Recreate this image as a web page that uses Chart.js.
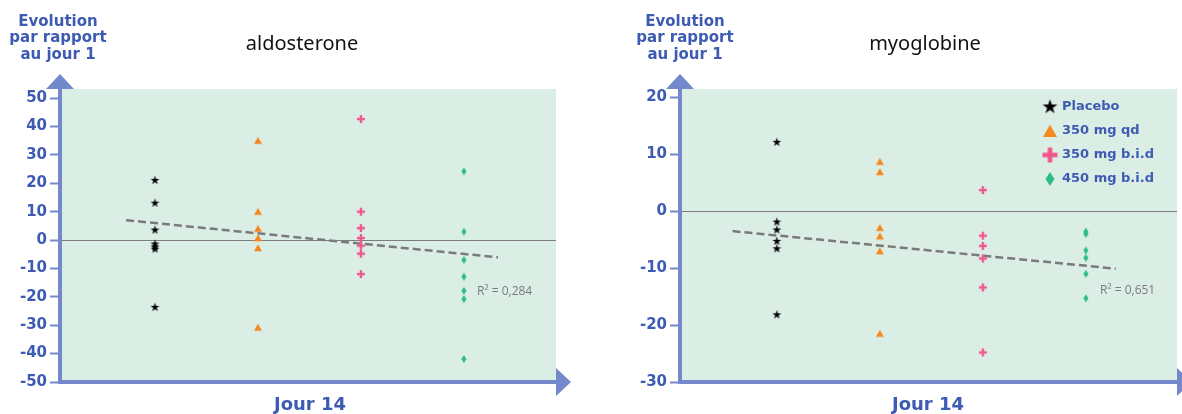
<!DOCTYPE html>
<html>
<head>
<meta charset="utf-8">
<script src="https://cdn.jsdelivr.net/npm/chart.js@4.4.0/dist/chart.umd.min.js"></script>
<style>
  body { margin: 0; background: #fff; }
  .wrap { position: absolute; top: 0; width: 591px; height: 414px; }
</style>
</head>
<body>
<div class="wrap" style="left:0"><canvas id="aldo"></canvas></div>
<div class="wrap" style="left:591px"><canvas id="myo"></canvas></div>
<script>
// groups, one column each on the x axis
const groups = ["Placebo", "350 mg qd", "350 mg b.i.d", "450 mg b.i.d"];
const groupX = [1, 2, 3, 4];

// aldosterone, change vs day 1
const aldoPlacebo = [21, 13, 3.5, -1.4, -2.4, -3.2, -23.7];
const aldoQd = [35, 10, 4, 0.7, -2.8, -30.8];
const aldoBid350 = [42.6, 10, 4.2, 0.7, -2, -4.8, -12];
const aldoBid450 = [24.2, 2.9, -7, -12.9, -17.9, -20.8, -41.9];
const aldoTrendX = [0.72, 4.33];
const aldoTrendY = [7.0, -6.1];
const aldoTicks = [-50, -40, -30, -20, -10, 0, 10, 20, 30, 40, 50];

// myoglobine
const myoPlacebo = [12.1, -1.9, -3.3, -5.3, -6.6, -18.2];
const myoQd = [8.7, 6.9, -2.9, -4.4, -7, -21.5];
const myoBid350 = [3.7, -4.3, -6.1, -8.3, -13.4, -24.8];
const myoBid450 = [-3.6, -4.0, -6.9, -8.2, -11, -15.3];
const myoTrendX = [0.57, 4.29];
const myoTrendY = [-3.5, -10.1];
const myoTicks = [-30, -20, -10, 0, 10, 20];

const axisColor = "#7489cc";
const blue = "#3d5bb3";
const groupColors = ["#000000", "#f5891f", "#f0588a", "#2dbd8a"];

function marker(shape, color, s) {
  const c = document.createElement("canvas");
  const w = Math.ceil(s + 2);
  c.width = w; c.height = w;
  const g = c.getContext("2d");
  const m = w / 2;
  g.fillStyle = color;
  g.beginPath();
  if (shape === "star") {
    for (let i = 0; i < 10; i++) {
      const r = i % 2 ? s * 0.2 : s * 0.52;
      const a = -Math.PI / 2 + i * Math.PI / 5;
      g.lineTo(m + r * Math.cos(a), m + r * Math.sin(a));
    }
    g.closePath(); g.fill();
  } else if (shape === "tri") {
    g.moveTo(m, m - s * 0.46);
    g.lineTo(m + s * 0.5, m + s * 0.42);
    g.lineTo(m - s * 0.5, m + s * 0.42);
    g.closePath(); g.fill();
  } else if (shape === "plus") {
    const t = s * 0.3;
    g.fillRect(m - s / 2, m - t / 2, s, t);
    g.fillRect(m - t / 2, m - s / 2, t, s);
  } else {
    g.moveTo(m, m - s / 2);
    g.lineTo(m + s * 0.32, m);
    g.lineTo(m, m + s / 2);
    g.lineTo(m - s * 0.32, m);
    g.closePath(); g.fill();
  }
  return c;
}

const smallMarkers = [marker("star", groupColors[0], 9), marker("tri", groupColors[1], 8),
  marker("plus", groupColors[2], 8), marker("diamond", groupColors[3], 8)];
const bigMarkers = [marker("star", groupColors[0], 15), marker("tri", groupColors[1], 14),
  marker("plus", groupColors[2], 15), marker("diamond", groupColors[3], 14)];

const decor = {
  id: "decor",
  beforeDraw(chart, args, o) {
    const { ctx, chartArea: a } = chart;
    ctx.save();
    ctx.fillStyle = "#dbeee5";
    ctx.fillRect(a.left, a.top, a.right - a.left, a.bottom - a.top);
    ctx.restore();
  },
  afterDraw(chart, args, o) {
    const { ctx, chartArea: a } = chart;
    ctx.save();
    ctx.fillStyle = axisColor;
    // y axis + arrow
    ctx.fillRect(a.left - 2, a.top, 4, a.bottom - a.top + 2);
    ctx.beginPath();
    ctx.moveTo(a.left, a.top - 15); ctx.lineTo(a.left + 14, a.top); ctx.lineTo(a.left - 14, a.top);
    ctx.closePath(); ctx.fill();
    // x axis + arrow
    ctx.fillRect(a.left - 2, a.bottom - 2, a.right - a.left + 2, 4);
    ctx.beginPath();
    ctx.moveTo(a.right + 15, a.bottom); ctx.lineTo(a.right, a.bottom - 14); ctx.lineTo(a.right, a.bottom + 14);
    ctx.closePath(); ctx.fill();

    // texts
    ctx.textAlign = "center";
    ctx.textBaseline = "middle";
    ctx.fillStyle = blue;
    ctx.font = "bold 15px 'DejaVu Sans'";
    ["Evolution", "par rapport", "au jour 1"].forEach((t, i) => ctx.fillText(t, o.axisTitleX, 22 + i * 16.5));
    ctx.font = "bold 18px 'DejaVu Sans'";
    ctx.fillText("Jour 14", o.xLabelX, 405);
    ctx.fillStyle = "#111";
    ctx.font = "20px 'Noto Sans'";
    ctx.fillText(o.title, o.titleX, 44);
    ctx.textAlign = "left";
    ctx.fillStyle = "#7a7a7a";
    ctx.font = "12px 'Open Sans'";
    ctx.fillText(o.r2, o.r2X, o.r2Y);

    if (o.legend) {
      ctx.font = "bold 13px 'DejaVu Sans'";
      groups.forEach((g, i) => {
        const y = 107 + i * 24;
        const m = bigMarkers[i];
        ctx.drawImage(m, o.legendX - m.width / 2, y - m.height / 2);
        ctx.fillStyle = blue;
        ctx.fillText(g, o.legendX + 12, y);
      });
    }
    ctx.restore();
  }
};

function makeChart(id, series, trendX, trendY, ticks, yMin, yMax, xMin, xMax, axisW, padRight, deco) {
  const datasets = series.map((vals, i) => ({
    label: groups[i],
    data: vals.map(v => ({ x: groupX[i], y: v })),
    pointStyle: smallMarkers[i],
    pointRadius: 4
  }));
  datasets.push({
    type: "line",
    label: "tendance",
    data: trendX.map((x, i) => ({ x: x, y: trendY[i] })),
    borderColor: "#7a7a7a",
    borderWidth: 2.5,
    borderDash: [8, 4],
    pointRadius: 0,
    fill: false
  });
  return new Chart(document.getElementById(id), {
    type: "scatter",
    data: { datasets },
    options: {
      responsive: true,
      maintainAspectRatio: false,
      animation: false,
      layout: { padding: { top: 89, bottom: 32, left: 0, right: padRight } },
      plugins: { legend: { display: false }, tooltip: { enabled: false }, decor: deco },
      scales: {
        x: { type: "linear", min: xMin, max: xMax, display: false },
        y: {
          min: yMin, max: yMax,
          afterBuildTicks: axis => { axis.ticks = ticks.map(v => ({ value: v })); },
          afterFit: axis => { axis.width = axisW; },
          border: { display: false },
          grid: {
            color: c => (c.tick && c.tick.value === 0 ? "#7d7d7d" : "rgba(0,0,0,0)"),
            lineWidth: 1,
            tickColor: axisColor,
            tickLength: 10,
            tickWidth: 2
          },
          ticks: {
            color: blue,
            padding: 3,
            font: { family: "DejaVu Sans", size: 15, weight: "bold" }
          }
        }
      }
    },
    plugins: [decor]
  });
}

makeChart("aldo", [aldoPlacebo, aldoQd, aldoBid350, aldoBid450], aldoTrendX, aldoTrendY,
  aldoTicks, -50, 53.2, 0.078, 4.894, 60, 35,
  { title: "aldosterone", titleX: 302, axisTitleX: 58, xLabelX: 310, r2: "R² = 0,284", r2X: 477, r2Y: 292, legend: false });

makeChart("myo", [myoPlacebo, myoQd, myoBid350, myoBid450], myoTrendX, myoTrendY,
  myoTicks, -30, 21.46, 0.06, 4.885, 89, 5,
  { title: "myoglobine", titleX: 334, axisTitleX: 94, xLabelX: 337, r2: "R² = 0,651", r2X: 509, r2Y: 291, legend: true, legendX: 459 });
</script>
</body>
</html>
